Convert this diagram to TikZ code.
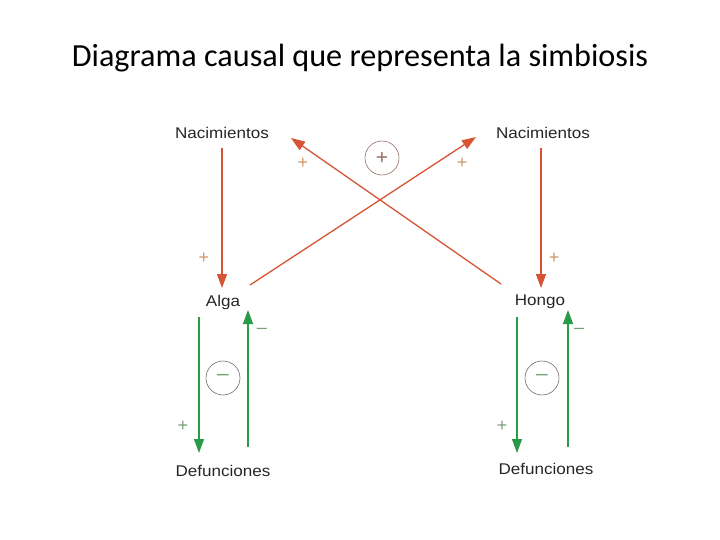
\documentclass[tikz,border=0pt]{standalone}
\usepackage{fontspec}
\setmainfont{Liberation Sans}
\newfontfamily\titlefont{Carlito}
\usetikzlibrary{arrows.meta,calc}
\definecolor{redarr}{RGB}{214,84,52}
\definecolor{grnarr}{RGB}{40,155,70}
\definecolor{signcol}{RGB}{205,150,105}
\definecolor{gsign}{RGB}{120,160,120}
\definecolor{circcol}{RGB}{150,110,100}
\definecolor{gcirc}{RGB}{110,110,110}
\tikzset{
  lbl/.style={font=\fontsize{15.5}{18}\selectfont, text=black!85, inner sep=1pt, xscale=1.1},
  redline/.style={draw=redarr, line width=1.3pt, -{Triangle[length=14pt,width=10pt]}},
  grnline/.style={draw=grnarr, line width=1.2pt, -{Triangle[length=14pt,width=10pt]}},
  sgn/.style={font=\fontsize{18}{18}\selectfont, text=signcol, inner sep=0pt},
  gsgn/.style={font=\fontsize{18}{18}\selectfont, text=gsign, inner sep=0pt},
  loopc/.style={circle, draw=#1, line width=0.6pt, minimum size=34pt, inner sep=0pt, font=\fontsize{21}{21}\selectfont}
}
\begin{document}
\begin{tikzpicture}[x=1pt,y=-1pt]
\useasboundingbox (0,0) rectangle (720,540);
\node (title) at (360,58) {\titlefont\fontsize{32.2}{36}\selectfont Diagrama causal que representa la simbiosis};
\node[lbl] (nacL) at (222,133) {Nacimientos};
\node[lbl] (nacR) at (543,133) {Nacimientos};
\node[lbl] (alga) at (223,302) {Alga};
\node[lbl] (hongo) at (540,302) {Hongo};
\node[lbl] (defL) at (223,471) {Defunciones};
\node[lbl] (defR) at (546,469) {Defunciones};
% red
\draw[redline] ($(nacL)+(0,15)$) -- ($(alga)+(-1,-14)$);
\draw[redline] ($(nacR)+(-2,15)$) -- ($(hongo)+(1,-14)$);
\draw[redline] ($(alga)+(27,-17)$) -- ($(nacR)+(-67,4)$);
\draw[redline] ($(hongo)+(-39,-18)$) -- ($(nacL)+(69,5)$);
\node[loopc=circcol, text=circcol] (cplus) at (382,158) {+};
\node[sgn] (p1) at (204,258) {+};
\node[sgn] (p2) at (303,163) {+};
\node[sgn] (p3) at (462,163) {+};
\node[sgn] (p4) at (554,258) {+};
% green
\draw[grnline] ($(alga)+(-24,15)$) -- ($(defL)+(-24,-18)$);
\draw[grnline] ($(defL)+(25,-24)$) -- ($(alga)+(25,8)$);
\draw[grnline] ($(hongo)+(-23,15)$) -- ($(defR)+(-29,-16)$);
\draw[grnline] ($(defR)+(22,-22)$) -- ($(hongo)+(28,8)$);
\node[loopc=gcirc, text=gsign] (cmL) at (223,378) {\raisebox{1pt}{–}};
\node[loopc=gcirc, text=gsign] (cmR) at (542,378) {\raisebox{1pt}{–}};
\node[gsgn] (mL) at (262,331) {–};
\node[gsgn] (mR) at (579,331) {–};
\node[gsgn] (pL) at (183,426) {+};
\node[gsgn] (pR) at (502,426) {+};
\end{tikzpicture}
\end{document}
